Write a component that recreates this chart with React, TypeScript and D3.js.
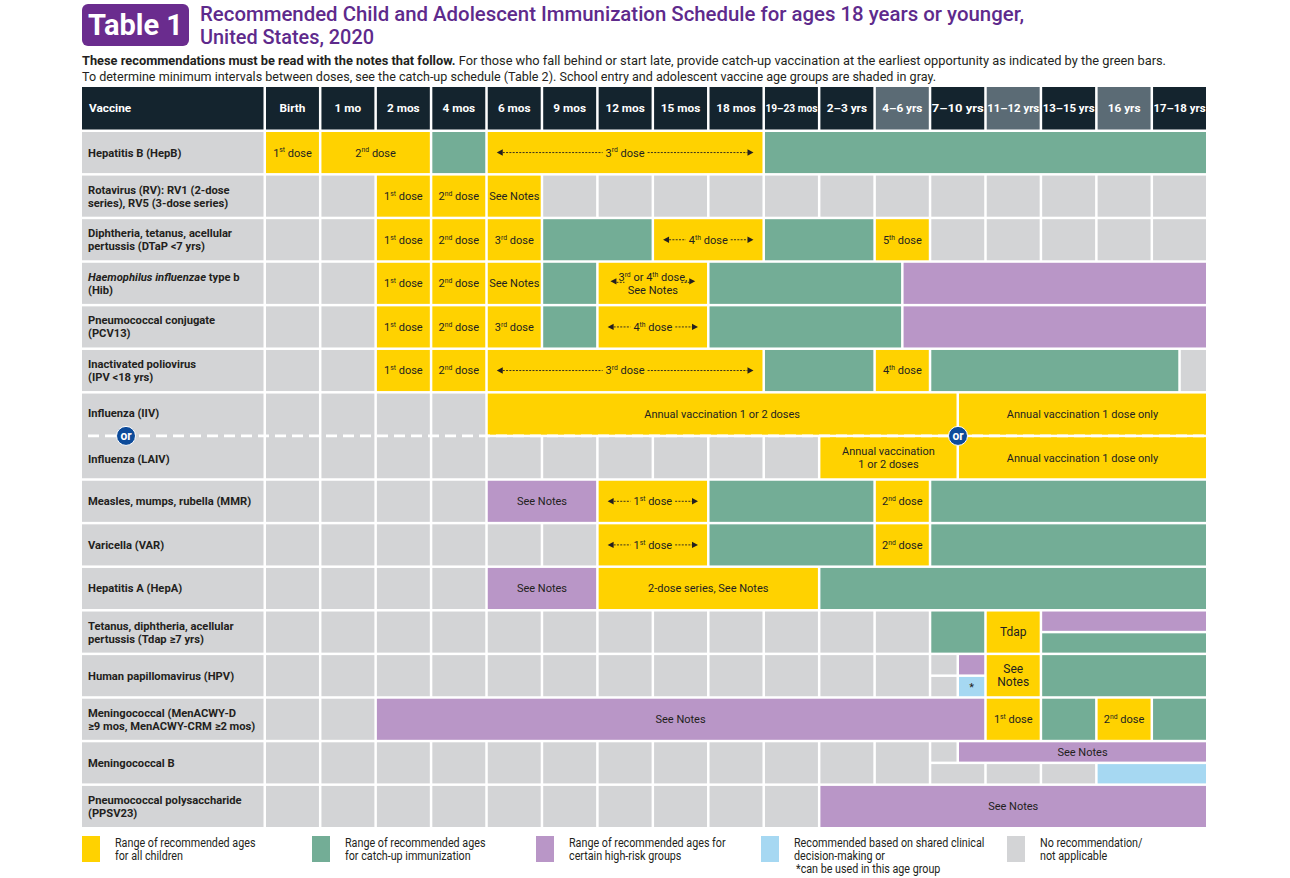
import React from 'react';
import * as d3 from 'd3';

type Part = 'top' | 'bot' | 'span2';
type Seg = { a: number; b: number; c: string; t?: string; arrow?: 'long' | 'short'; part?: Part };

const ages = ['Birth', '1 mo', '2 mos', '4 mos', '6 mos', '9 mos', '12 mos', '15 mos', '18 mos', '19–23 mos', '2–3 yrs', '4–6 yrs', '7–10 yrs', '11–12 yrs', '13–15 yrs', '16 yrs', '17–18 yrs'];
const shadedAges = ['4–6 yrs', '11–12 yrs', '16 yrs'];

const vaccineLabels: string[][] = [
  ['Hepatitis B (HepB)'],
  ['Rotavirus (RV): RV1 (2-dose', 'series), RV5 (3-dose series)'],
  ['Diphtheria, tetanus, acellular', 'pertussis (DTaP <7 yrs)'],
  ['_Haemophilus influenzae_ type b', '(Hib)'],
  ['Pneumococcal conjugate', '(PCV13)'],
  ['Inactivated poliovirus', '(IPV <18 yrs)'],
  ['Influenza (IIV)'],
  ['Influenza (LAIV)'],
  ['Measles, mumps, rubella (MMR)'],
  ['Varicella (VAR)'],
  ['Hepatitis A (HepA)'],
  ['Tetanus, diphtheria, acellular', 'pertussis (Tdap ≥7 yrs)'],
  ['Human papillomavirus (HPV)'],
  ['Meningococcal (MenACWY-D', '≥9 mos, MenACWY-CRM ≥2 mos)'],
  ['Meningococcal B'],
  ['Pneumococcal polysaccharide', '(PPSV23)'],
];

// gray "no recommendation" cells, one per age column
const na = (a: number, b: number, part?: Part): Seg[] => d3.range(a, b).map(i => ({ a: i, b: i + 1, c: 'N', part }));

const hepB: Seg[] = [
  { a: 0, b: 1, c: 'Y', t: '1^st dose' },
  { a: 1, b: 3, c: 'Y', t: '2^nd dose' },
  { a: 3, b: 4, c: 'G' },
  { a: 4, b: 9, c: 'Y', t: '3^rd dose', arrow: 'long' },
  { a: 9, b: 17, c: 'G' },
];
const rv: Seg[] = [
  ...na(0, 2),
  { a: 2, b: 3, c: 'Y', t: '1^st dose' },
  { a: 3, b: 4, c: 'Y', t: '2^nd dose' },
  { a: 4, b: 5, c: 'Y', t: 'See Notes' },
  ...na(5, 17),
];
const dtap: Seg[] = [
  ...na(0, 2),
  { a: 2, b: 3, c: 'Y', t: '1^st dose' },
  { a: 3, b: 4, c: 'Y', t: '2^nd dose' },
  { a: 4, b: 5, c: 'Y', t: '3^rd dose' },
  { a: 5, b: 7, c: 'G' },
  { a: 7, b: 9, c: 'Y', t: '4^th dose', arrow: 'long' },
  { a: 9, b: 11, c: 'G' },
  { a: 11, b: 12, c: 'Y', t: '5^th dose' },
  ...na(12, 17),
];
const hib: Seg[] = [
  ...na(0, 2),
  { a: 2, b: 3, c: 'Y', t: '1^st dose' },
  { a: 3, b: 4, c: 'Y', t: '2^nd dose' },
  { a: 4, b: 5, c: 'Y', t: 'See Notes' },
  { a: 5, b: 6, c: 'G' },
  { a: 6, b: 8, c: 'Y', t: '3^rd or 4^th dose,|See Notes', arrow: 'short' },
  { a: 8, b: 11.5, c: 'G' },
  { a: 11.5, b: 17, c: 'P' },
];
const pcv13: Seg[] = [
  ...na(0, 2),
  { a: 2, b: 3, c: 'Y', t: '1^st dose' },
  { a: 3, b: 4, c: 'Y', t: '2^nd dose' },
  { a: 4, b: 5, c: 'Y', t: '3^rd dose' },
  { a: 5, b: 6, c: 'G' },
  { a: 6, b: 8, c: 'Y', t: '4^th dose', arrow: 'long' },
  { a: 8, b: 11.5, c: 'G' },
  { a: 11.5, b: 17, c: 'P' },
];
const ipv: Seg[] = [
  ...na(0, 2),
  { a: 2, b: 3, c: 'Y', t: '1^st dose' },
  { a: 3, b: 4, c: 'Y', t: '2^nd dose' },
  { a: 4, b: 9, c: 'Y', t: '3^rd dose', arrow: 'long' },
  { a: 9, b: 11, c: 'G' },
  { a: 11, b: 12, c: 'Y', t: '4^th dose' },
  { a: 12, b: 16.5, c: 'G' },
  { a: 16.5, b: 17, c: 'N' },
];
const iiv: Seg[] = [
  ...na(0, 4, 'span2'),
  { a: 4, b: 12.5, c: 'Y', t: 'Annual vaccination 1 or 2 doses' },
  { a: 12.5, b: 17, c: 'Y', t: 'Annual vaccination 1 dose only' },
];
const laiv: Seg[] = [
  ...na(4, 10),
  { a: 10, b: 12.5, c: 'Y', t: 'Annual vaccination|1 or 2 doses' },
  { a: 12.5, b: 17, c: 'Y', t: 'Annual vaccination 1 dose only' },
];
const mmr: Seg[] = [
  ...na(0, 4),
  { a: 4, b: 6, c: 'P', t: 'See Notes' },
  { a: 6, b: 8, c: 'Y', t: '1^st dose', arrow: 'long' },
  { a: 8, b: 11, c: 'G' },
  { a: 11, b: 12, c: 'Y', t: '2^nd dose' },
  { a: 12, b: 17, c: 'G' },
];
const varicella: Seg[] = [
  ...na(0, 6),
  { a: 6, b: 8, c: 'Y', t: '1^st dose', arrow: 'long' },
  { a: 8, b: 11, c: 'G' },
  { a: 11, b: 12, c: 'Y', t: '2^nd dose' },
  { a: 12, b: 17, c: 'G' },
];
const hepA: Seg[] = [
  ...na(0, 4),
  { a: 4, b: 6, c: 'P', t: 'See Notes' },
  { a: 6, b: 10, c: 'Y', t: '2-dose series, See Notes' },
  { a: 10, b: 17, c: 'G' },
];
const tdap: Seg[] = [
  ...na(0, 12),
  { a: 12, b: 13, c: 'G' },
  { a: 13, b: 14, c: 'Y', t: 'Tdap' },
  { a: 14, b: 17, c: 'P', part: 'top' },
  { a: 14, b: 17, c: 'G', part: 'bot' },
];
const hpv: Seg[] = [
  ...na(0, 12),
  { a: 12, b: 12.5, c: 'N', part: 'top' },
  { a: 12, b: 12.5, c: 'N', part: 'bot' },
  { a: 12.5, b: 13, c: 'P', part: 'top' },
  { a: 12.5, b: 13, c: 'B', part: 'bot', t: '*' },
  { a: 13, b: 14, c: 'Y', t: 'See|Notes' },
  { a: 14, b: 17, c: 'G' },
];
const menACWY: Seg[] = [
  ...na(0, 2),
  { a: 2, b: 13, c: 'P', t: 'See Notes' },
  { a: 13, b: 14, c: 'Y', t: '1^st dose' },
  { a: 14, b: 15, c: 'G' },
  { a: 15, b: 16, c: 'Y', t: '2^nd dose' },
  { a: 16, b: 17, c: 'G' },
];
const menB: Seg[] = [
  ...na(0, 12),
  { a: 12, b: 12.5, c: 'N', part: 'top' },
  { a: 12.5, b: 17, c: 'P', part: 'top', t: 'See Notes' },
  ...na(12, 15, 'bot'),
  { a: 15, b: 17, c: 'B', part: 'bot' },
];
const ppsv23: Seg[] = [
  ...na(0, 10),
  { a: 10, b: 17, c: 'P', t: 'See Notes' },
];

const scheduleRows: Seg[][] = [hepB, rv, dtap, hib, pcv13, ipv, iiv, laiv, mmr, varicella, hepA, tdap, hpv, menACWY, menB, ppsv23];

const legendKeys = ['Y', 'G', 'P', 'B', 'N'];
const legendTexts: string[][] = [
  ['Range of recommended ages', 'for all children'],
  ['Range of recommended ages', 'for catch-up immunization'],
  ['Range of recommended ages for', 'certain high-risk groups'],
  ['Recommended based on shared clinical', 'decision-making or', ' *can be used in this age group'],
  ['No recommendation/', 'not applicable'],
];
const legendX = [82, 312, 536, 761, 1007];

const COLORS: Record<string, string> = {
  Y: '#FFD200',
  G: '#73AD96',
  P: '#B996C7',
  B: '#A6D8F2',
  N: '#D3D4D6',
};
const DARK = '#14242E';
const SHADED = '#5B6B75';
const INK = '#231F20';
const FONT = "Roboto, 'Open Sans', sans-serif";

let ctx: CanvasRenderingContext2D | null = null;
function measure(str: string, fs: number): number {
  if (!ctx) ctx = document.createElement('canvas').getContext('2d');
  const parts = str.split(/\^(st|nd|rd|th)/);
  let w = 0;
  parts.forEach((p, i) => {
    const size = i % 2 ? fs * 0.62 : fs;
    ctx!.font = `${size}px Roboto`;
    w += ctx!.measureText(p).width;
  });
  return w;
}

function Rich({ str, fs }: { str: string; fs: number }) {
  const parts = str.split(/\^(st|nd|rd|th)/);
  const out: React.ReactNode[] = [];
  let shifted = false;
  parts.forEach((p, i) => {
    if (i % 2) {
      out.push(<tspan key={i} dy={-fs * 0.38} fontSize={fs * 0.62}>{p}</tspan>);
      shifted = true;
    } else {
      if (p === '' && !shifted) return;
      out.push(<tspan key={i} dy={shifted ? fs * 0.38 : undefined}>{p}</tspan>);
      shifted = false;
    }
  });
  return <>{out}</>;
}

function Arrowhead({ x, y, dir }: { x: number; y: number; dir: 1 | -1 }) {
  const p = d3.path();
  p.moveTo(x, y);
  p.lineTo(x - dir * 6, y - 3.2);
  p.lineTo(x - dir * 6, y + 3.2);
  p.closePath();
  return <path d={p.toString()} fill={INK} />;
}

export default function App() {
  const W = 1290, H = 878;
  const gap = 2.5;
  const x = d3.scaleLinear().domain([0, 17]).range([266, 1208.5]);
  const y = d3.scaleLinear().domain([0, 16]).range([132, 829.5]);
  const labelX0 = 82;
  const headerTop = 87, headerBot = 129.5;
  const fs = 11;

  const rect = (r: number, s: Seg) => {
    const x0 = x(s.a), x1 = x(s.b) - gap;
    const top = y(r), full = y(r + 1) - gap;
    let y0 = top, y1 = full;
    if (s.part === 'top') y1 = top + (full - top - gap) / 2;
    if (s.part === 'bot') y0 = top + (full - top + gap) / 2;
    if (s.part === 'span2') y1 = y(r + 2) - gap;
    return { x0, x1, y0, y1 };
  };

  const cells: React.ReactNode[] = [];
  const texts: React.ReactNode[] = [];
  scheduleRows.forEach((row, r) => {
    row.forEach((s, k) => {
      const { x0, x1, y0, y1 } = rect(r, s);
      cells.push(<rect key={`c${r}-${k}`} x={x0} y={y0} width={x1 - x0} height={y1 - y0} fill={COLORS[s.c]} />);
      if (!s.t) return;
      const cx = (x0 + x1) / 2, cy = (y0 + y1) / 2;
      const lines = s.t.split('|');
      const tfs = s.t === 'See|Notes' ? 12 : s.t === 'Tdap' ? 12 : fs;
      lines.forEach((ln, li) => {
        const ly = cy + (li - (lines.length - 1) / 2) * 13 + tfs * 0.36;
        texts.push(
          <text key={`t${r}-${k}-${li}`} x={cx} y={ly} textAnchor="middle" fontSize={tfs} fill={INK} fontFamily={FONT}>
            <Rich str={ln} fs={tfs} />
          </text>
        );
      });
      if (s.arrow === 'long') {
        const tw = measure(lines[0], tfs);
        const lTip = x0 + 9, rTip = x1 - 9;
        texts.push(
          <g key={`a${r}-${k}`}>
            <Arrowhead x={lTip} y={cy} dir={-1} />
            <line x1={lTip + 6} x2={cx - tw / 2 - 3} y1={cy} y2={cy} stroke={INK} strokeWidth={0.9} strokeDasharray="2,1.3" />
            <line x1={cx + tw / 2 + 3} x2={rTip - 6} y1={cy} y2={cy} stroke={INK} strokeWidth={0.9} strokeDasharray="2,1.3" />
            <Arrowhead x={rTip} y={cy} dir={1} />
          </g>
        );
      } else if (s.arrow === 'short') {
        const tw = measure(lines[0], tfs);
        const ay = cy - 2;
        const lTip = cx - tw / 2 - 8, rTip = cx + tw / 2 + 8;
        texts.push(
          <g key={`a${r}-${k}`}>
            <Arrowhead x={lTip} y={ay} dir={-1} />
            <line x1={lTip + 6} x2={lTip + 14} y1={ay + 1} y2={ay + 1} stroke={INK} strokeWidth={0.9} strokeDasharray="2,1.3" />
            <line x1={rTip - 14} x2={rTip - 6} y1={ay + 1} y2={ay + 1} stroke={INK} strokeWidth={0.9} strokeDasharray="2,1.3" />
            <Arrowhead x={rTip} y={ay} dir={1} />
          </g>
        );
      }
    });
  });

  // vaccine label column
  const labelCells: React.ReactNode[] = [];
  vaccineLabels.forEach((lines, r) => {
    const isFlu = r === 6 || r === 7;
    if (r !== 7) {
      const y0 = y(r);
      const y1 = (r === 6 ? y(r + 2) : y(r + 1)) - gap;
      labelCells.push(<rect key={`l${r}`} x={labelX0} y={y0} width={x(0) - gap - labelX0} height={y1 - y0} fill={COLORS.N} />);
    }
    const cy = (y(r) + y(r + 1) - gap) / 2 + (isFlu ? (r === 6 ? -1 : 1) : 0);
    lines.forEach((ln, li) => {
      const ly = cy + (li - (lines.length - 1) / 2) * 13 + 4;
      const m = ln.match(/^_(.*)_(.*)$/);
      labelCells.push(
        <text key={`lt${r}-${li}`} x={88} y={ly} fontSize={11.2} fontWeight={700} fill={INK} fontFamily={FONT}>
          {m ? (<><tspan fontStyle="italic">{m[1]}</tspan>{m[2]}</>) : ln}
        </text>
      );
    });
  });

  const orY = y(7) - gap / 2;
  const legFs = 12.5;

  return (
    <svg width={W} height={H} style={{ position: 'absolute', left: 0, top: 0, background: '#fff' }} fontFamily={FONT}>
      {/* Title */}
      <rect x={82} y={4} width={107} height={42} rx={6} fill="#6A2C8E" />
      <text x={135.5} y={35} textAnchor="middle" fontSize={29} fontWeight={700} fill="#fff">Table 1</text>
      <text x={200} y={21} fontSize={20.5} fontWeight={500} fill="#5E2A8C" textLength={824} lengthAdjust="spacingAndGlyphs">
        Recommended Child and Adolescent Immunization Schedule for ages 18 years or younger,
      </text>
      <text x={200} y={44} fontSize={20.5} fontWeight={500} fill="#5E2A8C" textLength={174} lengthAdjust="spacingAndGlyphs">
        United States, 2020
      </text>
      <text x={82} y={65} fontSize={12.2} fill={INK} textLength={1084} lengthAdjust="spacingAndGlyphs">
        <tspan fontWeight={700}>These recommendations must be read with the notes that follow.</tspan>
        {' For those who fall behind or start late, provide catch-up vaccination at the earliest opportunity as indicated by the green bars.'}
      </text>
      <text x={82} y={81} fontSize={12.2} fill={INK} textLength={854} lengthAdjust="spacingAndGlyphs">
        To determine minimum intervals between doses, see the catch-up schedule (Table 2). School entry and adolescent vaccine age groups are shaded in gray.
      </text>

      {/* Header */}
      <rect x={labelX0} y={headerTop} width={x(0) - gap - labelX0} height={headerBot - headerTop} fill={DARK} />
      <text x={89} y={(headerTop + headerBot) / 2 + 4} fontSize={11.8} fontWeight={700} fill="#fff">Vaccine</text>
      {ages.map((a, i) => (
        <g key={a}>
          <rect x={x(i)} y={headerTop} width={x(i + 1) - gap - x(i)} height={headerBot - headerTop} fill={shadedAges.includes(a) ? SHADED : DARK} />
          <text x={(x(i) + x(i + 1) - gap) / 2} y={(headerTop + headerBot) / 2 + 4} textAnchor="middle" fontSize={11.8} fontWeight={700} fill="#fff"
            textLength={a.length > 7 ? 52 : undefined} lengthAdjust="spacingAndGlyphs">{a}</text>
        </g>
      ))}

      {labelCells}
      {cells}
      {texts}

      {/* Influenza "or" divider */}
      <line x1={88} x2={1204} y1={orY} y2={orY} stroke="#fff" strokeWidth={2.8} strokeDasharray="11,6" />
      {[126, 958].map(cx => (
        <g key={cx}>
          <circle cx={cx} cy={orY} r={9.5} fill="#0D4B9A" stroke="#fff" strokeWidth={1} />
          <text x={cx} y={orY + 4} textAnchor="middle" fontSize={12} fontWeight={700} fill="#fff">or</text>
        </g>
      ))}

      {/* Legend */}
      {legendKeys.map((k, i) => (
        <g key={k}>
          <rect x={legendX[i]} y={836} width={18} height={26} fill={COLORS[k]} />
          {legendTexts[i].map((t, j) => (
            <text key={j} x={legendX[i] + 33 + (t.startsWith(' ') ? 2 : 0)} y={847 + j * 13} fontSize={legFs} fill={INK}
              textLength={measure(t.trim(), legFs) * 0.86} lengthAdjust="spacingAndGlyphs">{t.trim()}</text>
          ))}
        </g>
      ))}
    </svg>
  );
}
